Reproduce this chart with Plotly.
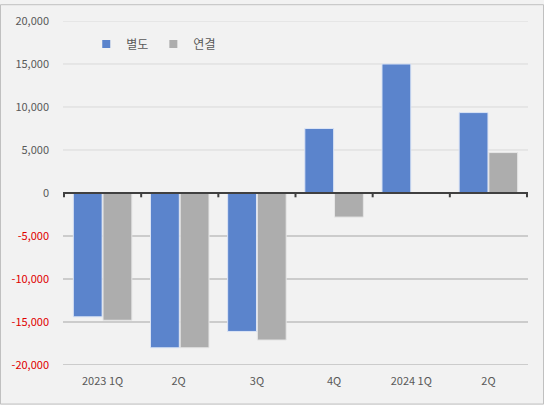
import plotly.graph_objects as go

categories = ["2023 1Q", "2Q ", "3Q", "4Q", "2024 1Q", "2Q"]
separate = [-14400, -18000, -16100, 7500, 15000, 9350]
consolidated = [-14800, -18000, -17100, -2800, None, 4700]
y_ticks = [-20000, -15000, -10000, -5000, 0, 5000, 10000, 15000, 20000]
series_names = ["별도", "연결"]
series_colors = ["#5b84cc", "#adadad"]

FONT = "Noto Sans CJK KR, Noto Sans, sans-serif"
W, H = 544, 405
L, R, T, B = 63, 16, 17, 40
pw, ph = W - L - R, H - T - B

fig = go.Figure()
for name, vals, col, lc in zip(series_names, [separate, consolidated], series_colors,
                               ["#dbe4f5", "#e6e6e6"]):
    fig.add_trace(go.Bar(name=name, x=categories, y=vals, marker_color=col,
                         marker_line=dict(color=lc, width=1), showlegend=False))
for name, col in zip(series_names, series_colors):
    fig.add_trace(go.Scatter(name=name, x=[None], y=[None], mode="markers",
                             marker=dict(symbol="square", size=8, color=col)))

tick_text = []
for v in y_ticks:
    s = f"{v:,}"
    tick_text.append(f"<span style='color:#e00000'>{s}</span>" if v < 0 else s)

shapes = []
for v in y_ticks:
    if v == 0:
        continue
    shapes.append(dict(type="line", xref="paper", yref="y", x0=0, x1=1, y0=v, y1=v,
                       line=dict(color="#d9d9d9" if v > 0 else "#a6a6a6", width=1), layer="below"))
shapes.append(dict(type="line", xref="paper", yref="y", x0=0, x1=1, y0=0, y1=0,
                   line=dict(color="#404040", width=2)))
for i in range(len(categories) + 1):
    shapes.append(dict(type="line", xref="x", yref="y", x0=i - 0.5, x1=i - 0.5, y0=0, y1=-500,
                       line=dict(color="#404040", width=2)))
shapes.append(dict(type="rect", xref="paper", yref="paper",
                   x0=-L / pw + 0.5 / pw, x1=1 + R / pw - 0.5 / pw,
                   y0=-B / ph + 0.5 / ph, y1=1 + T / ph - 0.5 / ph,
                   line=dict(color="#c0c0c0", width=1)))

fig.update_layout(
    width=W, height=H,
    margin=dict(l=L, r=R, t=T, b=B),
    paper_bgcolor="#f2f2f2", plot_bgcolor="#f2f2f2",
    barmode="group", bargap=0.23, bargroupgap=0.03,
    font=dict(family=FONT, size=11, color="#595959"),
    showlegend=True,
    legend=dict(orientation="h", x=0.05, y=0.975, xanchor="left", yanchor="top",
                bgcolor="rgba(0,0,0,0)", font=dict(size=12, color="#595959"),
                itemwidth=30, traceorder="normal"),
    xaxis=dict(showgrid=False, showline=False, ticks="", zeroline=False,
               tickfont=dict(size=11, color="#595959"), ticklabelstandoff=8),
    yaxis=dict(range=[-20000, 20000], tickvals=y_ticks, ticktext=tick_text,
               showgrid=False, zeroline=False, showline=False, ticks="",
               tickfont=dict(size=11, color="#595959"), ticklabelstandoff=13),
    shapes=shapes,
)
fig.write_html("out.html")
